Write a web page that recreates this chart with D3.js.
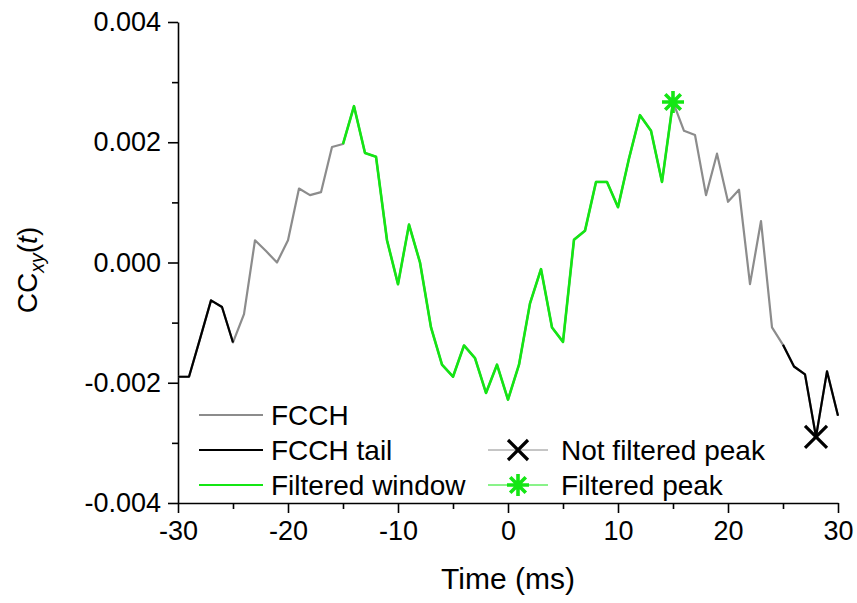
<!DOCTYPE html>
<html>
<head>
<meta charset="utf-8">
<script src="https://cdn.jsdelivr.net/npm/d3@7"></script>
<style>
  html, body { margin: 0; padding: 0; background: #fff; }
  svg { display: block; font-family: "Liberation Sans", Arial, sans-serif; }
</style>
</head>
<body>
<svg id="chart" width="857" height="603"></svg>
<script>
// Lag times (ms) of the cross-correlation histogram
const times = [-30, -29, -28, -27, -26, -25, -24, -23, -22, -21,
               -20, -19, -18, -17, -16, -15, -14, -13, -12, -11,
               -10, -9, -8, -7, -6, -5, -4, -3, -2, -1,
               0, 1, 2, 3, 4, 5, 6, 7, 8, 9,
               10, 11, 12, 13, 14, 15, 16, 17, 18, 19,
               20, 21, 22, 23, 24, 25, 26, 27, 28, 29, 30];

// CC_xy(t) values
const ccValues = [-0.00190, -0.00190, -0.00127, -0.00063, -0.00074, -0.00133, -0.00086, 0.00037, 0.00019, 0.00000,
                  0.00037, 0.00123, 0.00112, 0.00117, 0.00192, 0.00197, 0.00260, 0.00182, 0.00176, 0.00037,
                  -0.00036, 0.00063, 0.00000, -0.00108, -0.00170, -0.00190, -0.00138, -0.00159, -0.00217, -0.00170,
                  -0.00228, -0.00170, -0.00068, -0.00011, -0.00108, -0.00132, 0.00038, 0.00053, 0.00134, 0.00134,
                  0.00092, 0.00173, 0.00245, 0.00219, 0.00134, 0.00267, 0.00219, 0.00212, 0.00112, 0.00181,
                  0.00101, 0.00121, -0.00036, 0.00069, -0.00108, -0.00137, -0.00173, -0.00186, -0.00290, -0.00181, -0.00255];

// Sections of the curve: [start, end] lag ranges in ms
const tailRanges = [[-30, -25], [25, 30]];
const windowRange = [-15, 15];

// Marked peaks (lag in ms)
const filteredPeakTime = 15;
const notFilteredPeakTime = 28;

// Axis ticks
const xTicks = [-30, -20, -10, 0, 10, 20, 30];
const xMinorTicks = [-25, -15, -5, 5, 15, 25];
const yTicks = [-0.004, -0.002, 0.000, 0.002, 0.004];
const yMinorTicks = [-0.003, -0.001, 0.001, 0.003];

const legendLines = [
  { label: "FCCH", color: "#8c8c8c" },
  { label: "FCCH tail", color: "#000000" },
  { label: "Filtered window", color: "#14e614" }
];
const legendPeaks = [
  { label: "Not filtered peak", color: "#000000", line: "#8c8c8c", symbol: "cross" },
  { label: "Filtered peak", color: "#14e614", line: "#14e614", symbol: "star" }
];

const GRAY = "#8c8c8c", BLACK = "#000000", GREEN = "#14e614";
const TICK_FONT = 27, LEGEND_FONT = 28, TITLE_FONT = 30;

const svg = d3.select("#chart");
const x = d3.scaleLinear().domain([-30, 30]).range([178, 838]);
const y = d3.scaleLinear().domain([-0.004, 0.004]).range([503, 22]);

const data = times.map((t, i) => ({ t, v: ccValues[i] }));
const line = d3.line().x(d => x(d.t)).y(d => y(d.v));
const within = (r) => data.filter(d => d.t >= r[0] && d.t <= r[1]);
const fmt = v => d3.format(".3f")(v).replace("\u2212", "-");

// Axes
svg.append("g").attr("transform", `translate(${x(-30)},0)`)
  .call(d3.axisLeft(y).tickValues(yTicks).tickSize(10).tickPadding(7).tickFormat(fmt).tickSizeOuter(0));
svg.append("g").attr("transform", `translate(${x(-30)},0)`)
  .call(d3.axisLeft(y).tickValues(yMinorTicks).tickSize(6).tickFormat("").tickSizeOuter(0))
  .select(".domain").remove();
svg.append("g").attr("transform", `translate(0,${y(-0.004)})`)
  .call(d3.axisBottom(x).tickValues(xTicks).tickSize(10).tickPadding(8).tickFormat(d => String(d)).tickSizeOuter(0));
svg.append("g").attr("transform", `translate(0,${y(-0.004)})`)
  .call(d3.axisBottom(x).tickValues(xMinorTicks).tickSize(6).tickFormat("").tickSizeOuter(0))
  .select(".domain").remove();

svg.selectAll(".domain, .tick line").attr("stroke", "#000").attr("stroke-width", 1.6);
svg.selectAll(".tick text").attr("font-size", TICK_FONT).attr("font-family", "Liberation Sans, Arial, sans-serif").attr("fill", "#000");

// Axis titles
svg.append("text").attr("x", x(0)).attr("y", 589).attr("text-anchor", "middle")
  .attr("font-size", TITLE_FONT).text("Time (ms)");
const yt = svg.append("text").attr("transform", `translate(37,270) rotate(-90)`)
  .attr("text-anchor", "middle").attr("font-size", LEGEND_FONT);
yt.append("tspan").text("CC");
yt.append("tspan").attr("font-size", LEGEND_FONT * 0.7).attr("font-style", "italic").attr("dy", 7).text("xy");
yt.append("tspan").attr("dy", -7).text("(");
yt.append("tspan").attr("font-style", "italic").text("t");
yt.append("tspan").text(")");

// Curve: full histogram in gray, tails in black, filtered window in green
const plot = svg.append("g").attr("fill", "none").attr("stroke-linejoin", "round");
plot.append("path").datum(data).attr("d", line).attr("stroke", GRAY).attr("stroke-width", 2.2);
tailRanges.forEach(r => plot.append("path").datum(within(r)).attr("d", line)
  .attr("stroke", BLACK).attr("stroke-width", 2.2));
plot.append("path").datum(within(windowRange)).attr("d", line)
  .attr("stroke", GREEN).attr("stroke-width", 2.6);

// Peak symbols
function crossMark(g, cx, cy, r, color) {
  g.append("path").attr("d", `M${cx - r},${cy - r}L${cx + r},${cy + r}M${cx - r},${cy + r}L${cx + r},${cy - r}`)
    .attr("stroke", color).attr("stroke-width", 3.2).attr("fill", "none");
}
function starMark(g, cx, cy, r, color) {
  let d = "";
  for (let k = 0; k < 4; k++) {
    const a = k * Math.PI / 4;
    d += `M${cx - r * Math.cos(a)},${cy - r * Math.sin(a)}L${cx + r * Math.cos(a)},${cy + r * Math.sin(a)}`;
  }
  g.append("path").attr("d", d).attr("stroke", color).attr("stroke-width", 3.6).attr("fill", "none");
}
const fp = data.find(d => d.t === filteredPeakTime);
const nfp = data.find(d => d.t === notFilteredPeakTime);
starMark(svg, x(fp.t), y(fp.v), 11, GREEN);
crossMark(svg, x(nfp.t), y(nfp.v), 11, BLACK);

// Legend
const leg = svg.append("g");
const rowY = [415, 450, 485];
legendLines.forEach((d, i) => {
  leg.append("line").attr("x1", 199).attr("x2", 263).attr("y1", rowY[i]).attr("y2", rowY[i])
    .attr("stroke", d.color).attr("stroke-width", 2.2);
  leg.append("text").attr("x", 271).attr("y", rowY[i]).attr("dy", "0.36em")
    .attr("font-size", LEGEND_FONT).text(d.label);
});
legendPeaks.forEach((d, i) => {
  const cy = rowY[i + 1], cx = 518;
  leg.append("line").attr("x1", 488).attr("x2", 548).attr("y1", cy).attr("y2", cy)
    .attr("stroke", d.line).attr("stroke-width", 1);
  if (d.symbol === "cross") crossMark(leg, cx, cy, 10, d.color);
  else starMark(leg, cx, cy, 11, d.color);
  leg.append("text").attr("x", 561).attr("y", cy).attr("dy", "0.36em")
    .attr("font-size", LEGEND_FONT).text(d.label);
});
</script>
</body>
</html>
